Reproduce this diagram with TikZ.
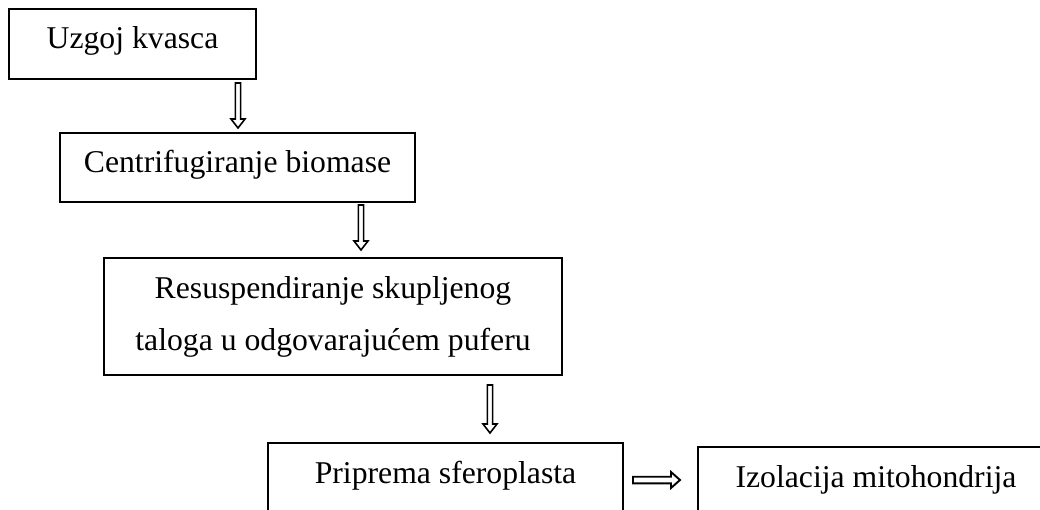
\documentclass[tikz,border=0pt]{standalone}
\usepackage{fontspec}
\setmainfont{Liberation Serif}
\usetikzlibrary{calc}
\newcommand\flowdownarrow[2]{%
  \draw[blk] let \p1=(#1), \p2=(#2) in
    (\x1-2.6pt,\y1) -- (\x1-2.6pt,\y2+9pt) -- (\x1-7pt,\y2+9pt) -- (\x1,\y2)
    -- (\x1+7pt,\y2+9pt) -- (\x1+2.6pt,\y2+9pt) -- (\x1+2.6pt,\y1) -- cycle;}
\newcommand\flowrightarrow[2]{%
  \draw[blk, line width=1.9pt] let \p1=(#1), \p2=(#2) in
    (\x1,\y1+3.3pt) -- (\x2-9pt,\y1+3.3pt) -- (\x2-9pt,\y1+8pt) -- (\x2,\y1)
    -- (\x2-9pt,\y1-8pt) -- (\x2-9pt,\y1-3.3pt) -- (\x1,\y1-3.3pt) -- cycle;}
\begin{document}
\begin{tikzpicture}[x=1pt,y=-1pt,
  box/.style={draw, line width=2.4pt, rectangle, inner xsep=0pt, inner ysep=0pt,
    outer sep=0pt, font=\fontsize{31.7}{52}\selectfont},
  oneline/.style={text height=22pt, text depth=12pt},
  blk/.style={draw, line width=1.6pt, fill=white, line join=miter}]
\useasboundingbox (0,0) rectangle (1040,510);
\fill[white] (0,0) rectangle (1040,510);

\node[box, oneline, minimum width=247pt, minimum height=70pt] (b1) at (132.5,44) {Uzgoj kvasca};
\node[box, oneline, minimum width=355pt, minimum height=69pt] (b2) at (237.5,167.5) {Centrifugiranje biomase};
\node[box, align=center, minimum width=458pt, minimum height=117pt] (b3) at (333,316.5)
  {Resuspendiranje skupljenog\\taloga u odgovarajućem puferu};
\node[box, oneline, minimum width=355pt, minimum height=70pt] (b4) at (445.5,478) {Priprema sferoplasta};
\node[box, oneline, minimum width=356pt, minimum height=70pt] (b5) at (876,482) {Izolacija mitohondrija};

\coordinate (a1s) at ($(b1.south west)+(229,4)$);
\coordinate (a1e) at ($(b2.north west)+(178,-5)$);
\coordinate (a2s) at ($(b2.south west)+(301,3)$);
\coordinate (a2e) at ($(b3.north west)+(257,-8)$);
\coordinate (a3s) at ($(b3.south west)+(386,10)$);
\coordinate (a3e) at ($(b4.north west)+(222,-10)$);
\coordinate (a4s) at ($(b4.east)+(10,2)$);
\coordinate (a4e) at ($(b5.west)+(-18,-2)$);

\flowdownarrow{a1s}{a1e}
\flowdownarrow{a2s}{a2e}
\flowdownarrow{a3s}{a3e}
\flowrightarrow{a4s}{a4e}
\end{tikzpicture}
\end{document}
